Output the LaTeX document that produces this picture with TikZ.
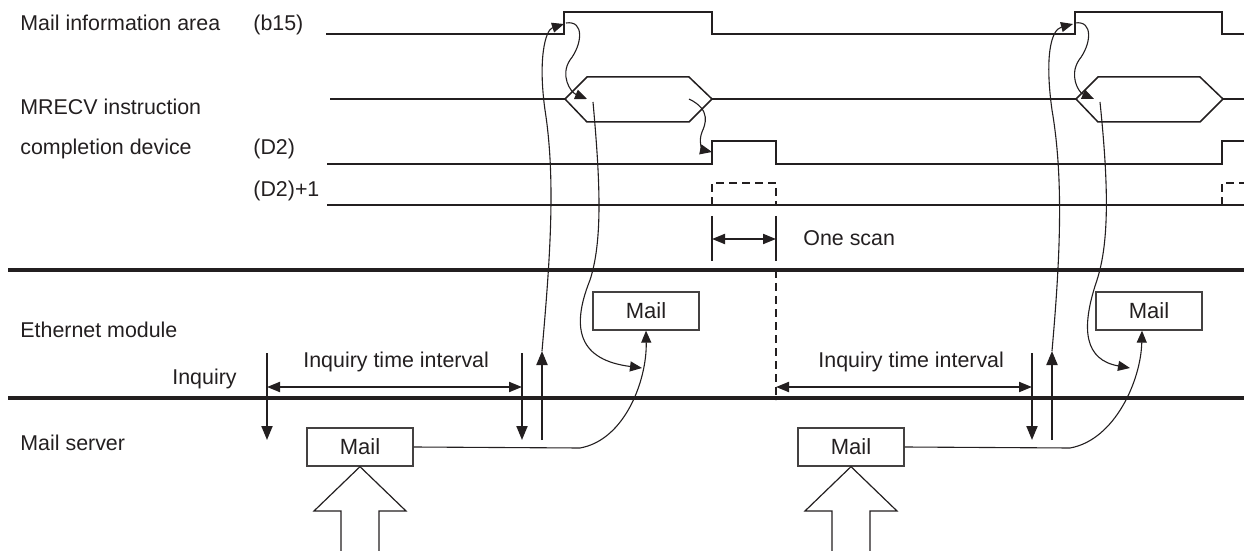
\documentclass[tikz,border=0pt]{standalone}
\usepackage{fontspec}
\setmainfont{Liberation Sans}
\usetikzlibrary{arrows.meta}
\definecolor{ink}{HTML}{231F20}

\begin{document}
\begin{tikzpicture}[x=0.5pt, y=-0.5pt,
    txt/.style={font=\fontsize{10.7}{13}\selectfont, text=ink, inner sep=0pt},
    mailbox/.style={draw=ink!85, line width=0.65pt, minimum width=53pt, minimum height=19pt, inner sep=0pt, font=\fontsize{11}{13}\selectfont, text=ink},
    sig/.style={draw=ink, line width=0.75pt},
    sigbold/.style={draw=ink, line width=1pt},
    bus/.style={draw=ink, line width=2pt},
    flow/.style={draw=ink, line width=0.55pt, -{Triangle[length=6pt, width=5pt]}},
    inq/.style={draw=ink, line width=1pt, -{Triangle[length=7pt, width=5.5pt]}},
    span/.style={draw=ink, line width=1pt, {Triangle[length=6.5pt, width=5pt]}-{Triangle[length=6.5pt, width=5pt]}},
    hollow/.style={draw=ink, line width=0.6pt},
    dashln/.style={dash pattern=on 4pt off 2.5pt}
]
    \useasboundingbox (0,0) rectangle (1244,551);

    % Labels
    \node[txt, anchor=base west] (mailinfo) at (20,31) {Mail information area};
    \node[txt, anchor=base west] (b15) at (253,31) {(b15)};
    \node[txt, anchor=base west] (mrecv) at (20,115) {MRECV instruction};
    \node[txt, anchor=base west] (compl) at (20,155) {completion device};
    \node[txt, anchor=base west] (d2) at (253,155) {(D2)};
    \node[txt, anchor=base west] (d2one) at (253,197) {(D2)+1};
    \node[txt, anchor=base west] (ethmod) at (20,337) {Ethernet module};
    \node[txt, anchor=base east] (inquiry) at (237,384) {Inquiry};
    \node[txt, anchor=base west] (mailsrv) at (20,450) {Mail server};
    \node[txt, anchor=base west] (intervalA) at (303,367) {Inquiry time interval};
    \node[txt, anchor=base west] (intervalB) at (818,367) {Inquiry time interval};
    \node[txt, anchor=base west] (onescan) at (803,246) {One scan};

    % Mail boxes
    \node[mailbox] (ethmailA) at (646,311) {Mail};
    \node[mailbox] (ethmailB) at (1149,311) {Mail};
    \node[mailbox] (srvmailA) at (360,447) {Mail};
    \node[mailbox] (srvmailB) at (851,447) {Mail};

    % Signal lines
    \draw[sig] (326,34) -- (564,34) -- (564,12) -- (712,12) -- (712,34) -- (1075,34) -- (1075,12) -- (1222,12) -- (1222,34) -- (1244,34);
    \draw[sigbold] (330,99) -- (565,99);
    \draw[sig] (565,99) -- (587,77) -- (689,77) -- (712,99) -- (689,122) -- (587,122) -- cycle;
    \draw[sigbold] (712,99) -- (1076,99);
    \draw[sig] (1076,99) -- (1098,77) -- (1200,77) -- (1223,99) -- (1200,122) -- (1098,122) -- cycle;
    \draw[sigbold] (1223,99) -- (1244,99);
    \draw[sig] (327,164) -- (712,164) -- (712,141) -- (776,141) -- (776,164) -- (1222,164) -- (1222,141) -- (1244,141);
    \draw[sigbold] (327,205) -- (1244,205);
    \draw[sig, dashln] (712,205) -- (712,183) -- (776,183) -- (776,205);
    \draw[sig, dashln] (1222,205) -- (1222,183) -- (1244,183);

    % One scan
    \coordinate (scanL) at (712,239);
    \coordinate (scanR) at (776,239);
    \draw[sigbold] (712,216) -- (712,261);
    \draw[sigbold] (776,216) -- (776,261);
    \draw[span] (scanL) -- (scanR);

    % Module boundaries
    \draw[bus] (8,270) -- (1244,270);
    \draw[bus] (8,398) -- (1244,398);
    \draw[sig, dashln] (776,270) -- (776,400);

    % Inquiries
    \coordinate (inqA) at (267,387);
    \coordinate (inqB) at (522,387);
    \coordinate (inqC) at (776,387);
    \coordinate (inqD) at (1032,387);
    \draw[inq] (267,353) -- (267,440);
    \draw[inq] (522,353) -- (522,440);
    \draw[inq] (1032,353) -- (1032,440);
    \draw[span] (inqA) -- (inqB);
    \draw[span] (inqC) -- (inqD);
    \coordinate (respA) at (542,351);
    \coordinate (respB) at (1052,351);
    \draw[inq] (542,440) -- (respA);
    \draw[inq] (1052,440) -- (respB);

    % Handshake curves
    \coordinate (riseA) at (564,24);
    \coordinate (riseB) at (1073,24);
    \coordinate (hexA) at (587,99);
    \coordinate (hexB) at (1094,99);
    \coordinate (doneA) at (712,152);
    \draw[flow] (respA) .. controls (550,260) and (556,180) .. (545,110) .. controls (538,60) and (545,30) .. (riseA);
    \draw[flow] (566,23) .. controls (585,20) and (582,45) .. (570,60) .. controls (560,75) and (570,92) .. (hexA);
    \draw[flow] (593,102) .. controls (600,180) and (603,240) .. (590,280) .. controls (570,330) and (580,360) .. (642,368);
    \draw[flow] (689,99) .. controls (712,110) and (705,125) .. (702,132) .. controls (698,142) and (703,150) .. (doneA);
    \draw[flow] (respB) .. controls (1060,260) and (1064,180) .. (1052,110) .. controls (1045,60) and (1050,30) .. (riseB);
    \draw[flow] (1075,23) .. controls (1094,20) and (1091,45) .. (1079,60) .. controls (1069,75) and (1078,92) .. (hexB);
    \draw[flow] (1100,102) .. controls (1108,180) and (1110,240) .. (1097,280) .. controls (1080,330) and (1085,360) .. (1130,368);

    % Mail transfer
    \draw[flow] (srvmailA.east) -- (580,448) .. controls (625,440) and (647,380) .. (ethmailA.south);
    \draw[flow] (srvmailB.east) -- (1070,448) .. controls (1115,440) and (1141,380) .. ([xshift=-3.5pt]ethmailB.south);

    % Incoming mail
    \draw[hollow] (341,551) -- (341,511) -- (314,511) -- (srvmailA.south) -- (406,511) -- (379,511) -- (379,551);
    \draw[hollow] (832,551) -- (832,511) -- (805,511) -- (srvmailB.south) -- (897,511) -- (870,511) -- (870,551);
\end{tikzpicture}
\end{document}
